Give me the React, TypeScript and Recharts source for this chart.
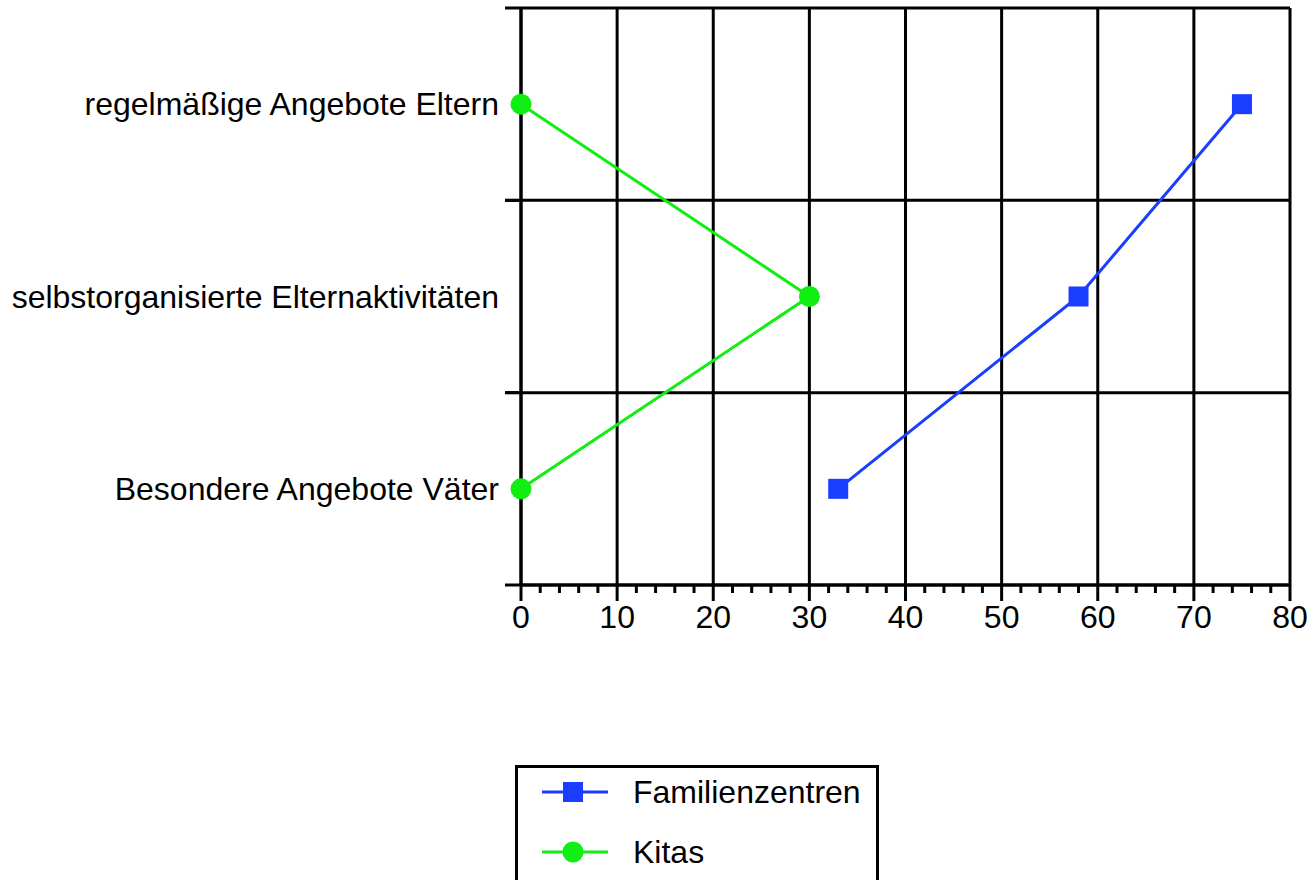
import React from 'react';
import { LineChart, Line, XAxis, YAxis, CartesianGrid, Legend } from 'recharts';

const categories = [
  'regelmäßige Angebote Eltern',
  'selbstorganisierte Elternaktivitäten',
  'Besondere Angebote Väter',
];
const familienzentren = [75, 58, 33];
const kitas = [0, 30, 0];

const majorTicks = [0, 10, 20, 30, 40, 50, 60, 70, 80];
const allTicks = Array.from({ length: 41 }, (_, i) => i * 2);

const data = categories.map((name, i) => ({
  name,
  familienzentren: familienzentren[i],
  kitas: kitas[i],
}));

const W = 1308;
const H = 880;
const PLOT_TOP = 8;
const PLOT_BOTTOM = 585;
const PLOT_RIGHT = 1290;
const AXIS_W = 521;
const XAXIS_H = 60;
const BAND = (PLOT_BOTTOM - PLOT_TOP) / categories.length;

const BLUE = '#1a3dff';
const GREEN = '#11ee11';
const FONT = '"Liberation Sans", Arial, Helvetica, sans-serif';

function YTick({ x, y, payload }: any) {
  return (
    <g>
      <line x1={x - 16} x2={x} y1={y - BAND / 2} y2={y - BAND / 2} stroke="#000" strokeWidth={3} />
      <line x1={x - 16} x2={x} y1={y + BAND / 2} y2={y + BAND / 2} stroke="#000" strokeWidth={3} />
      <text x={x - 22} y={y} dy={11} textAnchor="end" fontSize={32} fontFamily={FONT} fill="#000">
        {payload.value}
      </text>
    </g>
  );
}

function XTick({ x, y, payload }: any) {
  const major = payload.value % 10 === 0;
  return (
    <g>
      <line x1={x} x2={x} y1={y} y2={y + (major ? 16 : 8)} stroke="#000" strokeWidth={3} />
      {major && (
        <text x={x} y={y + 43} textAnchor="middle" fontSize={32} fontFamily={FONT} fill="#000">
          {payload.value}
        </text>
      )}
    </g>
  );
}

function SquareDot({ cx, cy, index }: any) {
  return <rect key={`sq-${index}`} x={cx - 10} y={cy - 10} width={20} height={20} fill={BLUE} />;
}

function CircleDot({ cx, cy, index }: any) {
  return <circle key={`ci-${index}`} cx={cx} cy={cy} r={10.5} fill={GREEN} />;
}

const legendItems = [
  { label: 'Familienzentren', color: BLUE, shape: 'square' },
  { label: 'Kitas', color: GREEN, shape: 'circle' },
];

function LegendBox() {
  const bw = 364;
  const bh = 120;
  return (
    <svg width={bw} height={bh} style={{ display: 'block' }}>
      <rect x={1.5} y={1.5} width={bw - 3} height={bh} fill="#fff" stroke="#000" strokeWidth={3} />
      {legendItems.map((it, i) => {
        const cy = 27 + i * 60;
        return (
          <g key={it.label}>
            <line x1={27} x2={93} y1={cy} y2={cy} stroke={it.color} strokeWidth={3} />
            {it.shape === 'square' ? (
              <rect x={48} y={cy - 10} width={20} height={20} fill={it.color} />
            ) : (
              <circle cx={58} cy={cy} r={10.5} fill={it.color} />
            )}
            <text x={118} y={cy} dy={11} fontSize={32} fontFamily={FONT} fill="#000">
              {it.label}
            </text>
          </g>
        );
      })}
    </svg>
  );
}

export default function App() {
  return (
    <div style={{ position: 'absolute', left: 0, top: 0, width: W, height: H, overflow: 'hidden', background: '#fff' }}>
      <style>{`body{margin:0;overflow:hidden}`}</style>
      <LineChart
        width={W}
        height={H}
        data={data}
        layout="vertical"
        margin={{ top: PLOT_TOP, right: W - PLOT_RIGHT, left: 0, bottom: H - PLOT_BOTTOM - XAXIS_H }}
      >
        <CartesianGrid
          stroke="#000"
          strokeWidth={3}
          verticalValues={majorTicks}
          horizontalCoordinatesGenerator={({ offset }: any) =>
            categories.map((_, i) => offset.top + (i * offset.height) / categories.length).concat(offset.top + offset.height)
          }
        />
        <Line
          dataKey="familienzentren"
          name="Familienzentren"
          stroke={BLUE}
          strokeWidth={3}
          dot={SquareDot}
          activeDot={false}
          isAnimationActive={false}
        />
        <Line
          dataKey="kitas"
          name="Kitas"
          stroke={GREEN}
          strokeWidth={3}
          dot={CircleDot}
          activeDot={false}
          isAnimationActive={false}
        />
        <XAxis
          type="number"
          domain={[0, 80]}
          ticks={allTicks}
          interval={0}
          height={XAXIS_H}
          tickSize={0}
          tickMargin={0}
          tickLine={false}
          axisLine={{ stroke: '#000', strokeWidth: 3 }}
          tick={<XTick />}
        />
        <YAxis
          type="category"
          dataKey="name"
          width={AXIS_W}
          padding={{ top: BAND / 2, bottom: BAND / 2 }}
          tickSize={0}
          tickMargin={0}
          tickLine={false}
          interval={0}
          axisLine={{ stroke: '#000', strokeWidth: 3 }}
          tick={<YTick />}
        />
        <Legend
          layout="vertical"
          align="center"
          verticalAlign="middle"
          wrapperStyle={{ left: 515, top: 765, width: 364, height: 115 }}
          content={() => <LegendBox />}
        />
      </LineChart>
    </div>
  );
}
